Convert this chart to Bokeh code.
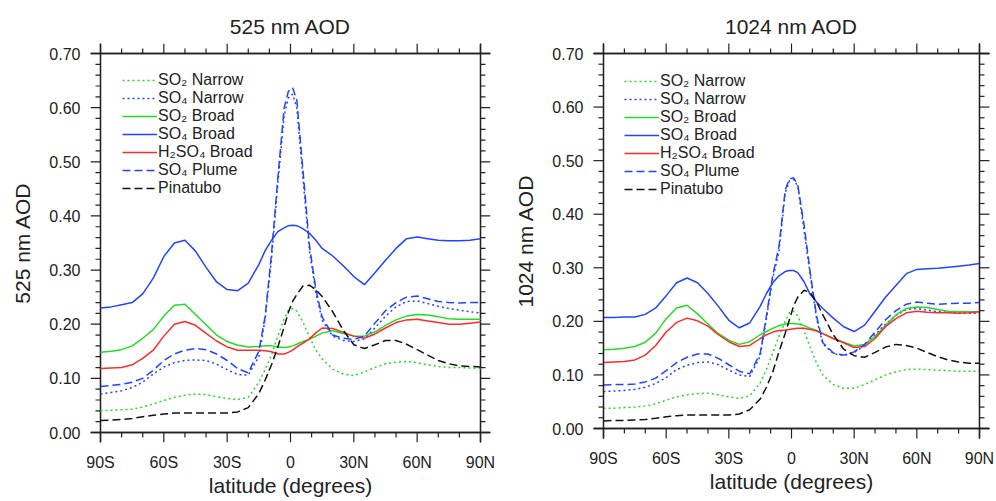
from bokeh.plotting import figure
from bokeh.layouts import row
from bokeh.models import (FixedTicker, Legend, LegendItem, Range1d,
                          NumeralTickFormatter, ColumnDataSource)
from bokeh.embed import file_html
from bokeh.resources import INLINE

lat = [-90, -85, -80, -75, -70, -65, -60, -55, -50, -45, -40, -35, -30, -25, -20, -15,
       -12, -9, -6, -3, -1, 1, 3, 6, 9, 12,
       15, 20, 25, 30, 35, 40, 45, 50, 55, 60, 65, 70, 75, 80, 85, 90]

# ---- 525 nm AOD ----
so2_narrow_525 = [0.040, 0.041, 0.042, 0.043, 0.047, 0.053, 0.059, 0.065, 0.069, 0.071, 0.070, 0.066, 0.063, 0.061, 0.065, 0.093,
                  0.116, 0.143, 0.178, 0.210, 0.226, 0.229, 0.224, 0.203, 0.177, 0.152,
                  0.136, 0.117, 0.108, 0.105, 0.112, 0.120, 0.127, 0.130, 0.131, 0.129, 0.125, 0.122, 0.120, 0.120, 0.119, 0.118]
so4_narrow_525 = [0.071, 0.074, 0.077, 0.083, 0.093, 0.108, 0.121, 0.129, 0.133, 0.134, 0.133, 0.126, 0.116, 0.107, 0.106, 0.140,
                  0.210, 0.320, 0.460, 0.585, 0.618, 0.625, 0.600, 0.465, 0.335, 0.258,
                  0.207, 0.178, 0.170, 0.168, 0.173, 0.193, 0.215, 0.232, 0.242, 0.243, 0.238, 0.233, 0.229, 0.226, 0.223, 0.221]
so2_broad_525 = [0.148, 0.150, 0.153, 0.160, 0.174, 0.190, 0.215, 0.235, 0.237, 0.218, 0.199, 0.180, 0.168, 0.161, 0.158, 0.159,
                 0.160, 0.160, 0.158, 0.157, 0.158, 0.160, 0.163, 0.168, 0.172, 0.178,
                 0.184, 0.188, 0.183, 0.178, 0.178, 0.186, 0.198, 0.208, 0.215, 0.218, 0.217, 0.214, 0.210, 0.209, 0.209, 0.209]
so4_broad_525 = [0.230, 0.232, 0.236, 0.240, 0.256, 0.285, 0.325, 0.350, 0.355, 0.335, 0.305, 0.278, 0.264, 0.262, 0.276, 0.310,
                 0.336, 0.355, 0.371, 0.378, 0.382, 0.383, 0.382, 0.376, 0.368, 0.355,
                 0.340, 0.326, 0.308, 0.288, 0.273, 0.295, 0.318, 0.340, 0.358, 0.361, 0.358, 0.355, 0.354, 0.354, 0.355, 0.358]
h2so4_broad_525 = [0.118, 0.119, 0.120, 0.125, 0.137, 0.152, 0.178, 0.200, 0.205, 0.198, 0.183, 0.169, 0.158, 0.152, 0.152, 0.152,
                   0.151, 0.149, 0.145, 0.145, 0.148, 0.152, 0.158, 0.165, 0.173, 0.184,
                   0.193, 0.192, 0.185, 0.178, 0.174, 0.182, 0.193, 0.203, 0.208, 0.209, 0.206, 0.203, 0.200, 0.200, 0.202, 0.204]
so4_plume_525 = [0.085, 0.087, 0.089, 0.093, 0.100, 0.115, 0.133, 0.145, 0.152, 0.155, 0.153, 0.145, 0.133, 0.118, 0.110, 0.150,
                 0.215, 0.330, 0.470, 0.600, 0.630, 0.637, 0.614, 0.480, 0.345, 0.265,
                 0.213, 0.180, 0.174, 0.172, 0.178, 0.202, 0.225, 0.240, 0.250, 0.252, 0.247, 0.242, 0.240, 0.239, 0.240, 0.240]
pinatubo_525 = [0.022, 0.023, 0.024, 0.026, 0.029, 0.032, 0.034, 0.036, 0.036, 0.036, 0.036, 0.036, 0.036, 0.038, 0.046, 0.072,
                0.097, 0.125, 0.158, 0.195, 0.222, 0.242, 0.255, 0.271, 0.272, 0.264,
                0.251, 0.223, 0.189, 0.162, 0.155, 0.162, 0.170, 0.170, 0.163, 0.153, 0.143, 0.133, 0.127, 0.123, 0.122, 0.121]

# ---- 1024 nm AOD ----
so2_narrow_1024 = [0.038, 0.038, 0.039, 0.040, 0.042, 0.046, 0.053, 0.059, 0.063, 0.065, 0.066, 0.063, 0.059, 0.056, 0.061, 0.085,
                   0.110, 0.141, 0.172, 0.200, 0.216, 0.219, 0.210, 0.182, 0.151, 0.122,
                   0.100, 0.082, 0.075, 0.075, 0.082, 0.091, 0.100, 0.106, 0.110, 0.111, 0.110, 0.109, 0.108, 0.107, 0.107, 0.107]
so4_narrow_1024 = [0.069, 0.070, 0.071, 0.073, 0.077, 0.084, 0.095, 0.110, 0.118, 0.123, 0.124, 0.119, 0.109, 0.100, 0.097, 0.135,
                   0.205, 0.280, 0.330, 0.440, 0.462, 0.465, 0.452, 0.370, 0.285, 0.205,
                   0.158, 0.140, 0.136, 0.142, 0.155, 0.175, 0.195, 0.211, 0.222, 0.224, 0.221, 0.218, 0.217, 0.216, 0.215, 0.215]
so2_broad_1024 = [0.147, 0.148, 0.150, 0.153, 0.161, 0.178, 0.205, 0.225, 0.230, 0.214, 0.195, 0.177, 0.165, 0.157, 0.162, 0.175,
                  0.181, 0.187, 0.192, 0.195, 0.196, 0.196, 0.195, 0.192, 0.187, 0.183,
                  0.177, 0.168, 0.161, 0.154, 0.157, 0.172, 0.192, 0.212, 0.224, 0.227, 0.226, 0.222, 0.219, 0.218, 0.218, 0.218]
so4_broad_1024 = [0.207, 0.207, 0.208, 0.208, 0.213, 0.225, 0.248, 0.272, 0.281, 0.272, 0.252, 0.228, 0.202, 0.188, 0.197, 0.228,
                  0.252, 0.272, 0.285, 0.293, 0.295, 0.295, 0.291, 0.274, 0.250, 0.236,
                  0.224, 0.206, 0.190, 0.181, 0.193, 0.219, 0.245, 0.267, 0.289, 0.297, 0.298, 0.299, 0.301, 0.303, 0.305, 0.308]
h2so4_broad_1024 = [0.123, 0.124, 0.125, 0.128, 0.137, 0.155, 0.180, 0.198, 0.206, 0.201, 0.191, 0.175, 0.162, 0.153, 0.155, 0.168,
                    0.175, 0.180, 0.183, 0.184, 0.185, 0.186, 0.187, 0.187, 0.185, 0.182,
                    0.177, 0.168, 0.160, 0.151, 0.153, 0.168, 0.190, 0.205, 0.216, 0.219, 0.217, 0.216, 0.216, 0.215, 0.216, 0.218]
so4_plume_1024 = [0.081, 0.082, 0.082, 0.083, 0.087, 0.094, 0.108, 0.123, 0.133, 0.139, 0.139, 0.131, 0.119, 0.107, 0.102, 0.140,
                  0.210, 0.285, 0.340, 0.445, 0.466, 0.468, 0.455, 0.380, 0.290, 0.210,
                  0.160, 0.141, 0.137, 0.143, 0.157, 0.180, 0.203, 0.220, 0.232, 0.236, 0.234, 0.232, 0.233, 0.234, 0.234, 0.235]
pinatubo_1024 = [0.014, 0.015, 0.015, 0.016, 0.017, 0.019, 0.022, 0.024, 0.025, 0.025, 0.025, 0.025, 0.025, 0.027, 0.035, 0.055,
                 0.077, 0.105, 0.143, 0.178, 0.203, 0.229, 0.245, 0.258, 0.254, 0.236,
                 0.212, 0.175, 0.148, 0.136, 0.133, 0.142, 0.152, 0.157, 0.155, 0.150, 0.142, 0.134, 0.128, 0.124, 0.122, 0.122]

series_labels = ["SO\u2082 Narrow", "SO\u2084 Narrow", "SO\u2082 Broad", "SO\u2084 Broad",
                 "H\u2082SO\u2084 Broad", "SO\u2084 Plume", "Pinatubo"]
series_colors = ["#22dd22", "#2244ff", "#22dd22", "#2244ff", "#ff2a2a", "#2244ff", "#111111"]
series_dashes = ["2 3", "2 3", "solid", "solid", "solid", "8 4", "8 4"]

x_ticks = [-90, -60, -30, 0, 30, 60, 90]
x_tick_labels = ["90S", "60S", "30S", "0", "30N", "60N", "90N"]
x_minor = list(range(-90, 91, 10))
y_ticks = [0.0, 0.1, 0.2, 0.3, 0.4, 0.5, 0.6, 0.7]
y_minor = [round(0.02 * i, 2) for i in range(36)]

FONT = "Liberation Sans"
AXC = "#222222"
TICK_MAJ = 10   # px, outward tick length
TICK_MIN = 5


def style_axis(ax, standoff):
    ax.axis_line_color = None
    ax.major_tick_line_color = None
    ax.minor_tick_line_color = None
    ax.major_tick_out = 0
    ax.major_tick_in = 0
    ax.minor_tick_out = 0
    ax.minor_tick_in = 0
    ax.major_label_text_font = FONT
    ax.major_label_text_color = "#222222"
    ax.major_label_text_font_size = "16px"
    ax.major_label_standoff = standoff
    ax.axis_label_text_font = FONT
    ax.axis_label_text_font_size = "21px"
    ax.axis_label_text_font_style = "normal"
    ax.axis_label_text_color = "#222222"


def is_major_y(t):
    return any(abs(t - m) < 1e-9 for m in y_ticks)


def make_panel(title, ylabel, values, data_w, data_h, bl, bt, br, bb, ylab_standoff, legend_x, legend_y, tick_level):
    xlo, xhi = x_ticks[0], x_ticks[-1]
    ylo, yhi = y_ticks[0], y_ticks[-1]
    ux = (xhi - xlo) / data_w
    uy = (yhi - ylo) / data_h
    dxM = TICK_MAJ * ux
    dyM = TICK_MAJ * uy

    p = figure(frame_width=data_w + 2 * TICK_MAJ, frame_height=data_h + 2 * TICK_MAJ,
               x_range=Range1d(xlo - dxM, xhi + dxM), y_range=Range1d(ylo - dyM, yhi + dyM),
               output_backend="svg", toolbar_location=None,
               min_border_left=bl, min_border_top=bt, min_border_right=br, min_border_bottom=bb)
    p.title.text = title
    p.title.text_font = FONT
    p.title.text_font_size = "21px"
    p.title.text_font_style = "normal"
    p.title.text_color = "#222222"
    p.title.align = "center"
    p.title.standoff = 11
    p.xgrid.visible = False
    p.ygrid.visible = False
    p.outline_line_color = None

    xb = p.xaxis[0]
    xb.ticker = FixedTicker(ticks=x_ticks, minor_ticks=[])
    xb.axis_label = "latitude (degrees)"
    xb.major_label_overrides = {t: l for t, l in zip(x_ticks, x_tick_labels)}
    style_axis(xb, 11)
    xb.axis_label_standoff = 0
    yl = p.yaxis[0]
    yl.ticker = FixedTicker(ticks=y_ticks, minor_ticks=[])
    yl.axis_label = ylabel
    yl.formatter = NumeralTickFormatter(format="0.00")
    style_axis(yl, 10)
    yl.axis_label_standoff = ylab_standoff

    # frame box (drawn along the axis limits)
    bx0 = [xlo - dxM, xlo - dxM, xlo, xhi]
    bx1 = [xhi + dxM, xhi + dxM, xlo, xhi]
    by0 = [ylo, yhi, ylo - dyM, ylo - dyM]
    by1 = [ylo, yhi, yhi + dyM, yhi + dyM]
    p.segment(x0=bx0, y0=by0, x1=bx1, y1=by1, line_color=AXC, line_width=1.3)

    # outward tick marks on all four sides
    tx0, ty0, tx1, ty1 = [], [], [], []
    for t in x_minor:
        L = (TICK_MAJ if t in x_ticks else TICK_MIN) * uy
        tx0 += [t, t]; tx1 += [t, t]
        ty0 += [ylo, yhi]; ty1 += [ylo - L, yhi + L]
    for t in y_minor:
        L = (TICK_MAJ if is_major_y(t) else TICK_MIN) * ux
        ty0 += [t, t]; ty1 += [t, t]
        tx0 += [xlo, xhi]; tx1 += [xlo - L, xhi + L]
    p.segment(x0=tx0, y0=ty0, x1=tx1, y1=ty1, line_color=AXC, line_width=1.2, level=tick_level)
    p.segment(x0=bx0, y0=by0, x1=bx1, y1=by1, line_color=AXC, line_width=1.3, level=tick_level)

    items = []
    for lab, col, dash, vals in zip(series_labels, series_colors, series_dashes, values):
        src = ColumnDataSource(dict(x=lat, y=vals))
        r = p.line("x", "y", source=src, line_color=col, line_width=1.5, line_dash=dash)
        items.append(LegendItem(label=lab, renderers=[r]))

    leg = Legend(items=items, location=(legend_x, legend_y), margin=0, padding=0,
                 border_line_color=None, background_fill_alpha=0,
                 label_text_font=FONT, label_text_font_size="16px", label_text_color="#222222",
                 glyph_width=35, glyph_height=16, label_height=16, label_standoff=1, spacing=0)
    p.add_layout(leg)
    return p


p1 = make_panel("525 nm AOD", "525 nm AOD",
                [so2_narrow_525, so4_narrow_525, so2_broad_525, so4_broad_525,
                 h2so4_broad_525, so4_plume_525, pinatubo_525],
                380, 379, 90, 43, 5, 58, 12, 32, 245, "underlay")
p2 = make_panel("1024 nm AOD", "1024 nm AOD",
                [so2_narrow_1024, so4_narrow_1024, so2_broad_1024, so4_broad_1024,
                 h2so4_broad_1024, so4_plume_1024, pinatubo_1024],
                376, 375, 98, 42, 5, 63, 12, 31, 240, "overlay")

layout = row(p1, p2)
open("out.html", "w").write(file_html(layout, INLINE))
